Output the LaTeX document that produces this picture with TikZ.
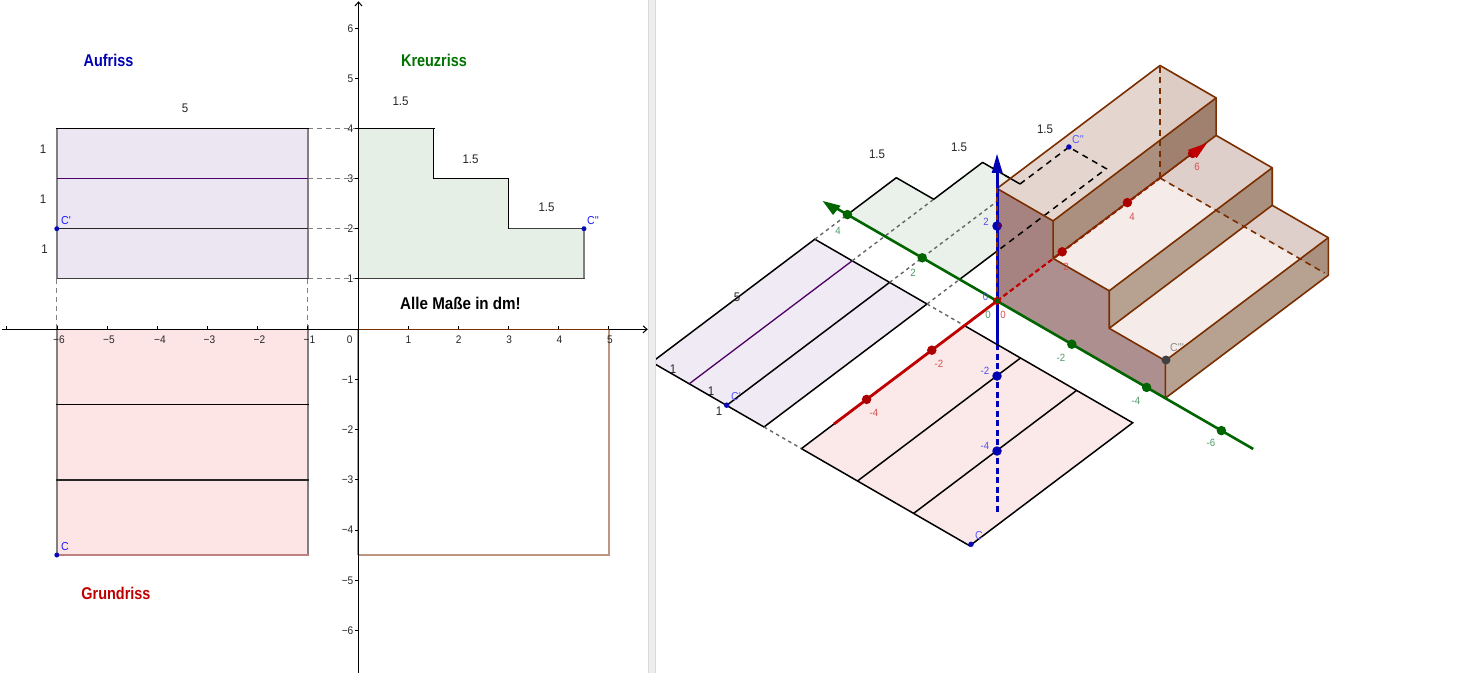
\documentclass[tikz,border=0pt]{standalone}
\usepackage{fontspec}
\setmainfont{Liberation Sans}
\newfontfamily\tickfont[FakeStretch=0.92]{Liberation Sans}
\newfontfamily\titlefont[FakeStretch=0.85]{Liberation Sans}
\newcommand{\prm}{\char39 }
\definecolor{brn}{HTML}{7A2E00}
\definecolor{lav}{HTML}{ECE6F2}
\definecolor{lavb}{HTML}{EFEAF3}
\definecolor{grn}{HTML}{E6EFE6}
\definecolor{grnb}{HTML}{E9F1EA}
\definecolor{pnk}{HTML}{FDE5E5}
\definecolor{pnkb}{HTML}{FBE9E9}
\definecolor{axr}{HTML}{C00000}
\definecolor{axg}{HTML}{006400}
\definecolor{axb}{HTML}{0000B4}
\definecolor{ptb}{HTML}{0A0AB4}
\definecolor{tread}{HTML}{F5EBE8}
\definecolor{topt}{HTML}{E4D6CF}
\definecolor{topr}{HTML}{DDCCC4}
\definecolor{riser}{HTML}{B7A291}
\definecolor{riserb}{HTML}{AC907F}
\definecolor{sideface}{HTML}{AE8F8F}
\definecolor{sideup}{HTML}{A68380}
\definecolor{backov}{HTML}{5A2814}
\definecolor{lblr}{HTML}{D65050}
\definecolor{lblg}{HTML}{4F9A68}
\definecolor{lblb}{HTML}{5050EE}
\tikzset{
  tick/.style={inner sep=0pt,font=\tickfont\fontsize{11}{12}\selectfont,text=black!85},
  dim/.style={inner sep=0pt,font=\tickfont\fontsize{12.5}{14}\selectfont,text=black!85},
  ptname/.style={inner sep=0pt,font=\tickfont\fontsize{11.5}{13}\selectfont,text=blue!90},
  ttl/.style={inner sep=0pt,font=\titlefont\bfseries\fontsize{17}{19}\selectfont},
  rl/.style={inner sep=0pt,font=\tickfont\fontsize{10.5}{12}\selectfont,text=lblr},
  gl/.style={inner sep=0pt,font=\tickfont\fontsize{10.5}{12}\selectfont,text=lblg},
  bl/.style={inner sep=0pt,font=\tickfont\fontsize{10.5}{12}\selectfont,text=lblb},
  gdash/.style={draw=black!50,line width=1.3pt,dash pattern=on 5pt off 4pt},
  sdash/.style={draw=black!60,line width=1.4pt,dash pattern=on 3.5pt off 3.5pt},
  bdash/.style={draw=black,line width=1.5pt,dash pattern=on 6pt off 5pt},
  sideline/.style={draw=black!50,line width=1.6pt},
  edge3/.style={draw=black,line width=1.5pt},
  blk/.style={draw=black,line width=1.3pt},
  stair/.style={draw=brn,line width=1.6pt,line join=round},
  dotr/.style={circle,fill=#1,inner sep=0pt,minimum size=9.5pt},
  pdot/.style={circle,fill=ptb,inner sep=0pt,minimum size=5.5pt},
}
\begin{document}
\begin{tikzpicture}[x=1pt,y=-1pt]
\useasboundingbox (0,0) rectangle (1469,676);
\fill[white] (0,0) rectangle (1469,676);

%% ---------- 2D view ----------
\fill[lav] (56.8,128.3) rectangle (307.8,278.7);
\fill[pnk] (56.8,329.3) rectangle (307.8,555);
\fill[grn] (358.3,128.3) -- (433.5,128.3) -- (433.5,178.7) -- (508.5,178.7) -- (508.5,228.7) -- (584,228.7) -- (584,278.7) -- (358.3,278.7) -- cycle;

\foreach \yy in {128.3,178.7,228.7,278.7} \draw[gdash] (307.8,\yy) -- (358.3,\yy);
\foreach \xx in {56.8,307.8} \draw[gdash] (\xx,278.7) -- (\xx,329.3);

\draw[sideline] (56.8,128.3) -- (56.8,278.7);
\draw[sideline] (307.8,128.3) -- (307.8,278.7);
\draw[blk] (55.5,128.3) -- (309,128.3);
\draw[black!75,line width=1.4pt] (56.8,278.7) -- (309,278.7);
\draw[black!40!blue!70!red,line width=1.3pt] (56.8,178.7) -- (307.8,178.7);
\draw[black!85,line width=1.4pt] (56.8,228.7) -- (307.8,228.7);

\draw[sideline] (56.8,325) -- (56.8,555);
\draw[sideline] (307.8,325) -- (307.8,555);
\draw[blk] (55.5,404.5) -- (309,404.5);
\draw[black!85,line width=1.4pt] (55.5,480) -- (309,480);
\draw[black!50!red!50,line width=1.4pt] (56.8,555) -- (308.5,555);

\draw[blk] (358.3,128.3) -- (434.5,128.3);
\draw[blk] (433.5,128.3) -- (433.5,178.7) -- (509,178.7);
\draw[blk] (508.5,178.7) -- (508.5,228.7);
\draw[black!75,line width=1.4pt] (508.5,228.7) -- (584,228.7);
\draw[sideline] (584,228.7) -- (584,278.7);
\draw[black!75,line width=1.4pt] (358.3,278.7) -- (584.5,278.7);

\draw[draw=brn!50!white,line width=1.6pt] (358.3,555) -- (609,555) -- (609,329.3);
\draw[draw=brn!50!white,line width=1.6pt] (358,329.3) -- (358,555);

\draw[black,line width=1.1pt] (2,329.3) -- (647,329.3);
\draw[brn,line width=1.1pt] (358.3,329.3) -- (609,329.3);
\draw[black,line width=1pt] (643,325.8) -- (647,329.3) -- (643,332.8);
\draw[black,line width=1.1pt] (358.5,673) -- (358.5,2);
\draw[black,line width=1pt] (355,6) -- (358.5,2) -- (362,6);
\foreach \xx in {6.3,57,107.3,157.5,207.6,257.6,307.8,408.3,458.4,508.5,558.6,608.7}
  \draw[black,line width=.8pt] (\xx,326) -- (\xx,329.3);
\foreach \yy in {28.3,78.3,128.3,178.4,228.5,278.7,379.3,429.5,479.6,530,580.5,630.6}
  \draw[black,line width=.8pt] (355,\yy) -- (358.5,\yy);

\foreach \lab/\xx [count=\n] in {−6/59,−5/109,−4/160,−3/209.5,−2/259.5,−1/309.5,1/408.5,2/458.7,3/509.3,4/559.5,5/610}
  \node[tick] (xtick\n) at (\xx,339.5) {\lab};
\node[tick] (xzero) at (349.7,339.5) {0};
\foreach \lab/\yy [count=\n] in {6/28.3,5/78.3,4/128.3,3/178.4,2/228.5,1/278.7,−1/379.3,−2/429.5,−3/479.6,−4/530,−5/580.5,−6/630.6}
  \node[tick,anchor=east] (ytick\n) at (353.5,\yy) {\lab};

\node[ttl,text=axb] (auf) at (108.5,60) {Aufriss};
\node[ttl,text=green!45!black] (kreuz) at (434,60) {Kreuzriss};
\node[ttl,text=axr] (grund) at (116,593) {Grundriss};
\node[ttl,text=black,xscale=1.05] (alle) at (460.5,303) {Alle Maße in dm!};

\node[dim] (d5) at (185,108) {5};
\node[dim] (d1a) at (43,149) {1};
\node[dim] (d1b) at (43,199) {1};
\node[dim] (d1c) at (44.5,249) {1};
\node[dim] (d15a) at (400.5,101) {1.5};
\node[dim] (d15b) at (470.5,159) {1.5};
\node[dim] (d15c) at (546.5,207) {1.5};

\node[pdot,minimum size=5pt] (Cpr) at (56.8,228.7) {};
\node[pdot,minimum size=5pt] (C) at (56.8,555) {};
\node[pdot,minimum size=5pt] (Cdp) at (584,228.7) {};
\node[ptname] (lCpr) at (66,220.5) {C\prm};
\node[ptname] (lC) at (65,547) {C};
\node[ptname] (lCdp) at (593,220.5) {C\prm\prm};

\fill[black!7] (648.3,0) rectangle (655.5,673);
\draw[black!15,line width=.6pt] (648.3,0) -- (648.3,673);
\draw[black!15,line width=.6pt] (655.5,0) -- (655.5,673);

%% ---------- 3D view ----------
\begin{scope}
\clip (656,0) rectangle (1469,676);
\begin{scope}[shift={(997,301)},x={(32.6pt,24.6pt)},y={(-37.4pt,21.6pt)},z={(0pt,37.5pt)}]
% planes
\fill[pnkb] (-6,0,0) -- (-1,0,0) -- (-1,-4.5,0) -- (-6,-4.5,0) -- cycle;
\fill[lavb] (-6,1,0) -- (-1,1,0) -- (-1,4,0) -- (-6,4,0) -- cycle;
\fill[grnb] (0,4,0) -- (1.5,4,0) -- (1.5,3,0) -- (3,3,0) -- (3,2,0) -- (4.5,2,0) -- (4.5,1,0) -- (0,1,0) -- cycle;
\draw[axb,line width=3pt,dash pattern=on 6pt off 3.5pt] (0,0,-1.15) -- (0,0,-5.67);
\draw[edge3] (-1,0,0) -- (-1,-4.5,0) -- (-6,-4.5,0) -- (-6,0,0) -- cycle;
\draw[edge3] (-1,-1.5,0) -- (-6,-1.5,0);
\draw[edge3] (-1,-3,0) -- (-6,-3,0);
\draw[edge3] (-6,4,0) -- (-1,4,0) -- (-1,1,0) -- (-6,1,0) -- (-6,4,0);
\draw[edge3] (-1,2,0) -- (-6,2,0);
\draw[line width=1.3pt,draw=black!45!blue!70!red] (-1,3,0) -- (-6,3,0);
\draw[edge3,line join=round] (0,4,0) -- (1.5,4,0) -- (1.5,3,0) -- (3,3,0) -- (3,2,0);
\draw[edge3] (1.15,1,0) -- (0,1,0);
% grey dashed projection lines
\draw[sdash] (-1,4,0) -- (0,4,0);
\draw[sdash] (-1,3,0) -- (1.5,3,0);
\draw[sdash] (-1,2,0) -- (2.29,2,0);
\draw[sdash] (-1,1,0) -- (0,1,0);
\draw[sdash] (-1,1,0) -- (-1,0,0);
\draw[sdash] (-6,1,0) -- (-6,0,0);
% stair faces
\fill[tread] (0,-1.5,2) -- (5,-1.5,2) -- (5,-3,2) -- (0,-3,2) -- cycle;
\fill[tread] (0,-3,1) -- (5,-3,1) -- (5,-4.5,1) -- (0,-4.5,1) -- cycle;
\fill[riser] (0,-3,2) -- (5,-3,2) -- (5,-3,1) -- (0,-3,1) -- cycle;
\fill[riser] (0,-4.5,1) -- (5,-4.5,1) -- (5,-4.5,0) -- (0,-4.5,0) -- cycle;
\fill[riserb] (0,-1.5,3) -- (5,-1.5,3) -- (5,-1.5,2) -- (0,-1.5,2) -- cycle;
% back face seen through the solid
\fill[backov,opacity=.14] (5,0,0) -- (5,0,3) -- (5,-1.5,3) -- (5,-1.5,2) -- (5,-3,2) -- (5,-3,1) -- (5,-4.5,1) -- (5,-4.5,0) -- cycle;
\fill[topt] (0,0,3) -- (5,0,3) -- (5,-1.5,3) -- (0,-1.5,3) -- cycle;
\fill[sideface] (0,0,0) -- (0,0,3) -- (0,-1.5,3) -- (0,-1.5,2) -- (0,-3,2) -- (0,-3,1) -- (0,-4.5,1) -- (0,-4.5,0) -- cycle;
\end{scope}
% darker upper part of the side face, right part of the top face
\fill[sideup] (997,188.5) -- (1053,221) -- (1053,258) -- (997,301) -- cycle;
\fill[topr] (1160,65.5) -- (1216.5,97.5) -- (1160,140) -- cycle;
\begin{scope}[shift={(997,301)},x={(32.6pt,24.6pt)},y={(-37.4pt,21.6pt)},z={(0pt,37.5pt)}]
% hidden edges
\draw[brn,line width=1.6pt,dash pattern=on 6pt off 4.5pt] (5,0,0) -- (5,0,3);
\draw[brn,line width=1.6pt,dash pattern=on 6pt off 4.5pt] (5,0,0) -- (5,-4.4,0);
% Kreuzriss outline seen through the solid
\draw[edge3] (3,2.4,0) -- (3,2,0);
\draw[bdash] (3,2,0) -- (4.5,2,0) -- (4.5,1,0) -- (1.15,1,0);
% red dashed axis inside
\draw[axr,line width=2.2pt,dash pattern=on 5pt off 3pt] (0,0,0) -- (5,0,0);
\draw[axr,line width=1.2pt] (5,0,0) -- (5.9,0,0);
% stair visible edges
\draw[stair] (0,0,3) -- (5,0,3) -- (5,-1.5,3) -- (0,-1.5,3) -- cycle;
\draw[stair] (5,-1.5,3) -- (5,-1.5,2) -- (0,-1.5,2) -- (0,-1.5,3);
\draw[stair] (5,-1.5,2) -- (5,-3,2) -- (0,-3,2) -- (0,-1.5,2);
\draw[stair] (5,-3,2) -- (5,-3,1) -- (0,-3,1) -- (0,-3,2);
\draw[stair] (5,-3,1) -- (5,-4.5,1) -- (0,-4.5,1) -- (0,-3,1);
\draw[stair] (5,-4.5,1) -- (5,-4.5,0) -- (0,-4.5,0) -- (0,-4.5,1);
% axes
\draw[axr,line width=2.8pt] (-5,0,0) -- (0,0,0);
\draw[axg,line width=2.6pt] (0,4.4,0) -- (0,-6.85,0);
\draw[axb,line width=3pt] (0,0,-1.15) -- (0,0,3.4);
\draw[brn,line width=1.5pt,dash pattern=on 5pt off 4pt] (0,0,0) -- (0,0,3);
% axis dots
\foreach \v in {-4,-2,2,4,6} \node[dotr=axr!90!black] (rd\v) at (\v,0,0) {};
\foreach \v in {4,2,-2,-4,-6} \node[dotr=axg] (gd\v) at (0,\v,0) {};
\foreach \v in {2,-2,-4} \node[dotr=axb] (bd\v) at (0,0,\v) {};
\node[circle,fill=axr,inner sep=0pt,minimum size=8pt] (o1) at (0,0,0) {};
\node[circle,fill=axg,inner sep=0pt,minimum size=5pt] (o2) at (0,0,0) {};
\end{scope}
% arrow heads
\fill[axg] (822.7,201) -- (840.7,205.7) -- (833,215) -- cycle;
\fill[axb] (997,154) -- (1002.7,173) -- (991.7,173) -- cycle;
\fill[axr] (1207,143) -- (1196.7,158) -- (1187.7,150) -- cycle;
% dark mark where the z=2 dot lies behind the side face
\node[circle,fill=black!40!blue!70!red,inner sep=0pt,minimum size=5pt] (bdin) at (999.5,225.5) {};
\end{scope}

% axis tick labels in 3D
\foreach \lab/\xx/\yy [count=\n] in {-4/874/412.5,-2/939/364,0/1003/315,2/1066/267,4/1132/217,6/1197/167}
  \node[rl] (rt\n) at (\xx,\yy) {\lab};
\foreach \lab/\xx/\yy [count=\n] in {4/838/231,2/913/273,0/988/315,-2/1061/358,-4/1136/401,-6/1211/443}
  \node[gl] (gt\n) at (\xx,\yy) {\lab};
\foreach \lab/\xx/\yy [count=\n] in {2/986/222,0/985.5/297,-2/985/371,-4/985/446}
  \node[bl] (bt\n) at (\xx,\yy) {\lab};

% dims in 3D
\node[dim] (e15a) at (877,154) {1.5};
\node[dim] (e15b) at (959,147) {1.5};
\node[dim] (e15c) at (1045,129) {1.5};
\node[dim] (e5) at (737,297) {5};
\node[dim] (e1a) at (673,369) {1};
\node[dim] (e1b) at (711,391) {1};
\node[dim] (e1c) at (719,411) {1};

% points in 3D
\node[pdot] (Cd3) at (1068.9,147) {};
\node[pdot] (Cp3) at (726.6,405.2) {};
\node[pdot] (C3) at (971,544.3) {};
\node[circle,fill=black!75,inner sep=0pt,minimum size=9pt] (Ct3) at (1166,360) {};
\node[ptname,text=blue!65] (lCd3) at (1078,140) {C\prm\prm};
\node[ptname,text=blue!65] (lCp3) at (736,397) {C\prm};
\node[ptname,text=blue!65] (lC3) at (979,536) {C};
\node[ptname,text=black!45] (lCt3) at (1177,348) {C\prm\prm\prm};
\end{tikzpicture}
\end{document}
